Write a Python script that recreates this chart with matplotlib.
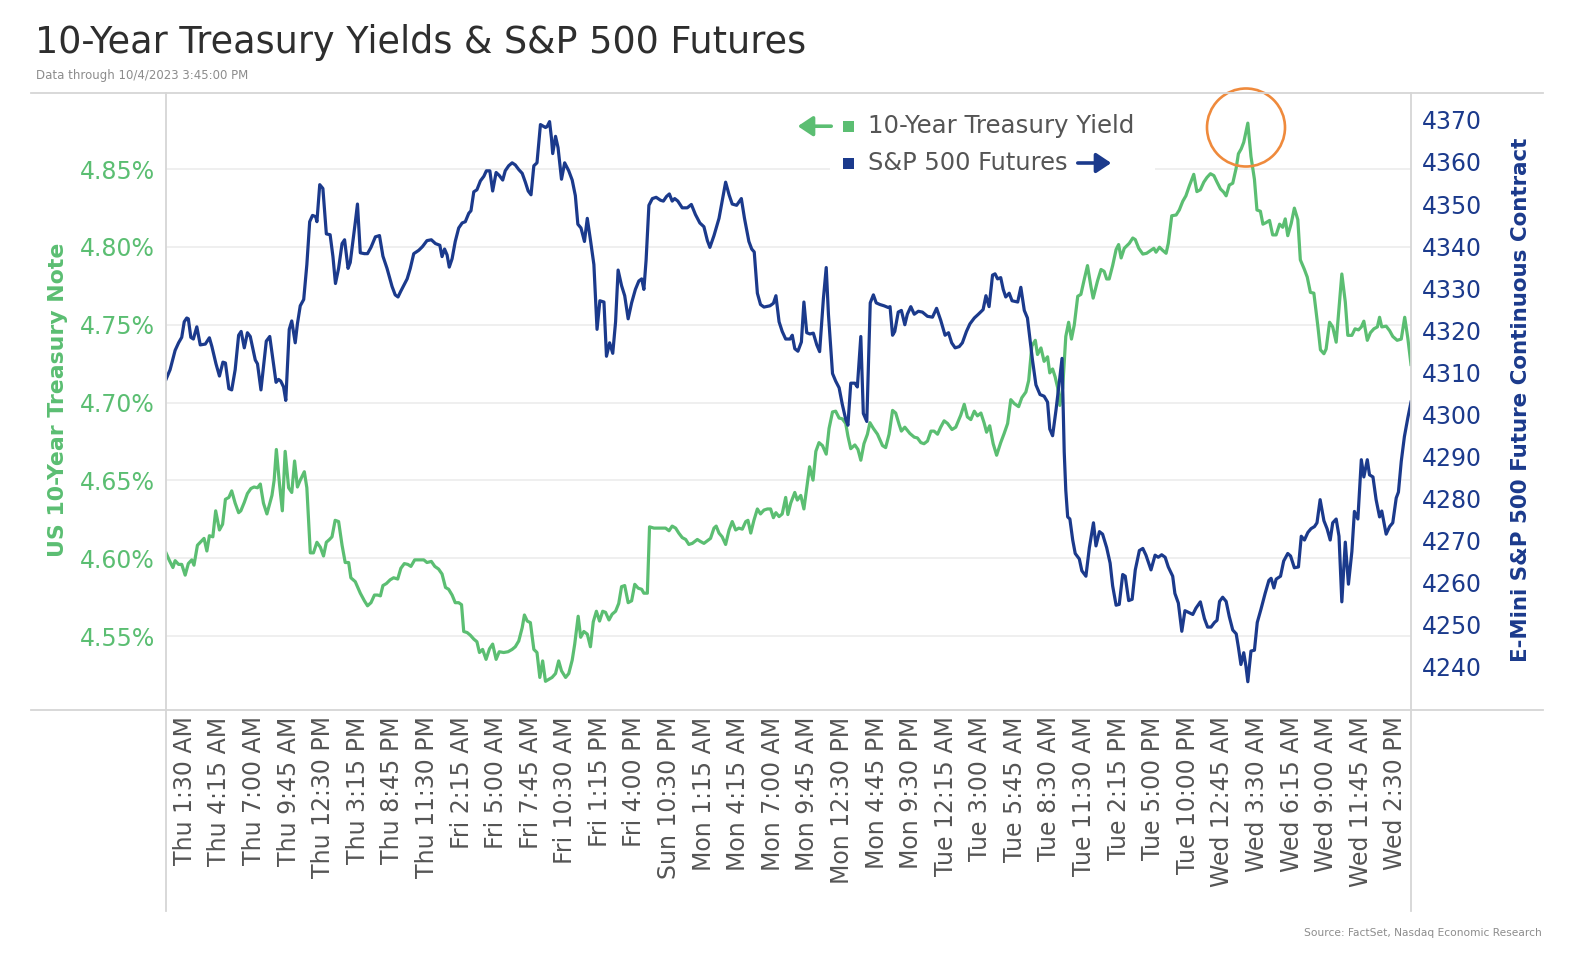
import matplotlib
matplotlib.use("Agg")
import matplotlib.pyplot as plt
from matplotlib.lines import Line2D
from matplotlib.patches import Rectangle, Ellipse, FancyArrowPatch

plt.rcParams['font.family'] = ['DejaVu Sans']

# ---------------- data ----------------
# x = time step index (15-minute bars, categorical axis, weekend gap removed)
x_labels = ["Thu 1:30 AM", "Thu 4:15 AM", "Thu 7:00 AM", "Thu 9:45 AM", "Thu 12:30 PM",
            "Thu 3:15 PM", "Thu 8:45 PM", "Thu 11:30 PM", "Fri 2:15 AM", "Fri 5:00 AM",
            "Fri 7:45 AM", "Fri 10:30 AM", "Fri 1:15 PM", "Fri 4:00 PM", "Sun 10:30 PM",
            "Mon 1:15 AM", "Mon 4:15 AM", "Mon 7:00 AM", "Mon 9:45 AM", "Mon 12:30 PM",
            "Mon 4:45 PM", "Mon 9:30 PM", "Tue 12:15 AM", "Tue 3:00 AM", "Tue 5:45 AM",
            "Tue 8:30 AM", "Tue 11:30 AM", "Tue 2:15 PM", "Tue 5:00 PM", "Tue 10:00 PM",
            "Wed 12:45 AM", "Wed 3:30 AM", "Wed 6:15 AM", "Wed 9:00 AM", "Wed 11:45 AM",
            "Wed 2:30 PM"]
label_first_step = 6
label_every = 11
last_step = 396

yld_ticks = [4.55, 4.60, 4.65, 4.70, 4.75, 4.80, 4.85]
sp_ticks = [4240, 4250, 4260, 4270, 4280, 4290, 4300, 4310, 4320, 4330, 4340, 4350, 4360, 4370]

# S&P 500 futures (right axis)
sp_t1 = [0, 1.3, 2.9, 4.0, 5.0, 5.8, 6.6, 7.1, 7.9, 8.7, 9.8, 10.9, 12.5, 13.8, 14.6, 15.9, 17.0, 18.1, 18.9, 20.0,
         20.9, 22.0, 23.1, 23.9, 24.9, 25.9, 26.8, 28.4, 29.1, 30.2, 31.9, 33.0, 33.7, 35.0, 35.8, 36.5, 37.4, 38.1, 39.2, 40.0,
         41.1, 41.8, 42.7, 43.8, 44.8, 45.7, 46.6, 47.6, 48.0, 48.9, 49.9, 51.0, 52.2, 53.1, 53.9, 54.9, 56.0, 56.8, 57.9, 58.6,
         60.2, 60.9, 61.8, 63.1, 64.1, 65.2, 66.6, 67.9, 69.0, 70.3, 71.9, 72.9, 73.8, 74.7, 76.7, 77.7]
sp_v1 = [4308.3, 4310.6, 4315.2, 4317.0, 4318.3, 4322.0, 4322.9, 4322.7, 4318.3, 4317.9, 4320.8, 4316.5, 4316.7, 4318.2, 4316.1,
         4312.0, 4309.1, 4312.4, 4312.2, 4306.1, 4305.8, 4310.6, 4318.8, 4319.7, 4315.8, 4319.4, 4318.5, 4312.9, 4312.0, 4305.8,
         4317.4, 4318.5, 4314.7, 4307.6, 4308.3, 4307.9, 4306.5, 4303.3, 4320.2, 4322.2, 4317.0, 4321.5, 4325.8, 4327.3, 4335.6,
         4345.8, 4347.3, 4347.0, 4345.8, 4354.6, 4353.7, 4342.9, 4342.7, 4337.5, 4331.1, 4334.7, 4340.6, 4341.5, 4334.7, 4336.1,
         4345.6, 4350.0, 4338.4, 4338.2, 4338.2, 4339.7, 4342.2, 4342.5, 4337.6, 4334.7, 4330.4, 4328.4, 4327.9, 4329.3, 4332.2,
         4334.7]
sp_t2 = [78.8, 80.4, 81.6, 83.0, 84.4, 85.7, 87.1, 87.8, 88.6, 89.4, 90.1, 91.0, 92.0, 93.1, 94.2, 95.2, 96.3, 97.0, 97.9, 98.9,
         100.0, 101.1, 101.9, 103.0, 103.9, 105.0, 106.0, 107.1, 107.9, 109.0, 110.1, 111.1, 112.2, 113.3, 114.3, 115.2, 116.1,
         117.0, 118.0, 119.1, 120.7, 121.2, 122.0, 122.6, 123.0, 123.9, 124.7, 125.8, 126.8, 128.1, 129.2, 130.2, 131.0, 132.0,
         133.1, 134.0, 135.0, 136.1, 137.1, 138.0, 139.3, 140.1, 141.1, 142.1, 143.0, 143.8, 144.9, 145.9, 147.0, 148.1, 149.3,
         150.4, 151.3, 152.0, 152.7, 153.6, 154.7, 155.9, 157.3]
sp_v2 = [4338.2, 4339.0, 4339.9, 4341.3, 4341.5, 4340.6, 4340.2, 4337.5, 4339.3, 4337.9, 4335.0, 4337.0, 4341.1, 4344.3, 4345.5,
         4345.8, 4347.8, 4348.4, 4352.9, 4353.4, 4355.5, 4356.6, 4357.9, 4357.9, 4353.1, 4357.5, 4356.8, 4355.7, 4357.9, 4359.1,
         4359.8, 4359.3, 4358.2, 4357.3, 4355.2, 4353.1, 4352.2, 4359.1, 4359.8, 4368.9, 4368.2, 4368.4, 4369.6, 4365.7, 4362.0,
         4366.1, 4363.4, 4355.9, 4359.8, 4357.9, 4355.7, 4352.0, 4345.2, 4344.3, 4341.1, 4346.6, 4341.5, 4335.6, 4320.2, 4327.0,
         4326.7, 4313.8, 4317.0, 4314.5, 4322.0, 4334.3, 4330.6, 4328.2, 4322.7, 4326.5, 4329.7, 4331.7, 4332.2, 4329.7, 4336.6,
         4349.7, 4351.3, 4351.6, 4350.9]
sp_t3 = [158.2, 159.2, 160.1, 161.0, 161.8, 162.8, 164.2, 165.8, 167.1, 168.4, 169.8, 171.1, 172.2, 173.0, 174.3, 175.9,
         178.0, 179.1, 180.1, 181.5, 183.0, 184.0, 185.4, 186.3, 187.1, 188.1, 189.1, 190.2, 192.1, 193.2, 194.0, 195.0, 196.0,
         197.1, 198.5, 199.2, 200.0, 201.0, 202.1, 202.9, 203.8, 204.8, 205.9, 207.0, 207.9, 209.1, 210.0, 210.7, 212.0, 213.0,
         214.1, 215.1, 216.2, 216.9, 217.8, 219.1, 219.9, 221.0, 221.8, 222.9, 224.0, 225.0, 225.9, 227.1, 228.4, 229.7, 230.3,
         231.1, 231.8, 232.9, 233.9, 235.0]
sp_v3 = [4350.7, 4351.8, 4352.4, 4350.7, 4351.3, 4350.7, 4349.1, 4349.1, 4349.9, 4347.5, 4345.5, 4344.6, 4341.3, 4339.7, 4342.5,
         4346.6, 4355.2, 4352.2, 4350.0, 4349.7, 4351.3, 4346.6, 4341.1, 4339.3, 4338.6, 4328.8, 4326.1, 4325.5, 4325.8, 4326.4,
         4328.2, 4322.0, 4319.7, 4317.9, 4317.9, 4318.8, 4315.6, 4315.0, 4317.2, 4326.7, 4319.4, 4319.1, 4319.3, 4316.5, 4314.9,
         4327.5, 4334.9, 4323.8, 4309.7, 4307.9, 4306.3, 4302.4, 4298.8, 4297.4, 4307.4, 4307.4, 4306.5, 4318.5, 4300.2, 4298.3,
         4326.5, 4328.4, 4326.5, 4326.1, 4325.8, 4325.4, 4325.6, 4318.8, 4319.7, 4324.3, 4324.7, 4321.3]
sp_t4 = [235.8, 236.9, 238.0, 239.3, 240.6, 242.2, 243.8, 245.1, 246.4, 247.8, 248.9, 249.9, 251.0, 252.3, 253.3, 254.6,
         255.7, 257.1, 258.4, 259.9, 260.8, 261.8, 262.9, 263.7, 264.5, 265.5, 266.3, 267.1, 268.2, 269.1, 270.9, 271.9, 273.0,
         274.0, 275.6, 276.7, 278.0, 279.3, 280.4, 281.1, 282.0, 283.1, 284.1, 285.0, 285.7, 286.2, 286.8, 287.5, 288.4, 289.2,
         290.5, 291.3, 292.6, 293.7, 295.0, 295.8, 296.9, 297.9, 299.2, 300.3, 301.1, 302.2, 303.2, 304.3, 305.1, 306.2, 307.3,
         308.3, 309.6, 310.7, 311.7, 313.3]
sp_v4 = [4323.8, 4325.6, 4323.8, 4324.5, 4324.3, 4323.3, 4323.1, 4325.2, 4322.4, 4318.8, 4319.4, 4317.0, 4315.8, 4316.1, 4317.0,
         4319.7, 4321.5, 4322.9, 4323.8, 4324.9, 4328.2, 4325.6, 4333.1, 4333.4, 4332.2, 4332.5, 4329.7, 4327.9, 4328.8, 4327.0,
         4326.7, 4330.2, 4324.7, 4322.9, 4312.9, 4307.0, 4304.7, 4304.3, 4302.9, 4296.5, 4294.9, 4301.1, 4307.4, 4313.3, 4291.0,
         4281.9, 4275.6, 4275.1, 4270.1, 4266.9, 4265.6, 4262.8, 4261.5, 4268.3, 4274.2, 4268.7, 4272.1, 4271.5, 4268.3, 4264.6,
         4259.2, 4254.6, 4254.8, 4261.9, 4261.5, 4255.7, 4256.0, 4263.0, 4267.6, 4268.1, 4266.5, 4263.0]
sp_t5 = [314.6, 315.6, 316.7, 317.8, 318.8, 320.2, 320.9, 322.0, 323.1, 324.1, 325.5, 326.6, 327.6, 329.0, 330.3, 331.3,
         332.4, 333.5, 334.3, 335.1, 336.1, 337.2, 338.2, 339.3, 340.4, 341.1, 341.9, 342.8, 343.5, 344.1, 345.1, 346.2, 347.1,
         348.3, 349.6, 350.8, 351.5, 352.4, 353.1, 354.5, 355.5, 356.8, 357.7, 358.9, 360.2, 361.1, 362.1, 363.2, 364.2, 365.3,
         366.1, 367.1, 368.3, 369.3, 370.3, 371.1, 372.2, 373.1, 374.0, 375.1, 376.1, 377.2, 378.0, 379.1, 380.2, 381.0, 382.1,
         382.8, 383.9, 384.9, 386.0, 386.7, 388.1, 389.2, 390.2, 391.3, 392.0, 392.9, 393.9, 395.0, 396.0]
sp_v5 = [4266.5, 4266.0, 4266.6, 4266.0, 4263.7, 4261.5, 4257.4, 4255.1, 4248.4, 4253.3, 4252.8, 4252.4, 4253.9, 4255.4, 4251.4,
         4249.4, 4249.4, 4250.5, 4251.0, 4255.5, 4256.5, 4255.5, 4251.9, 4248.7, 4247.8, 4244.6, 4240.5, 4243.3, 4240.1, 4236.4,
         4243.7, 4243.9, 4250.5, 4253.7, 4257.4, 4260.5, 4261.0, 4258.7, 4260.8, 4261.5, 4265.1, 4266.9, 4266.3, 4263.5, 4263.7,
         4271.0, 4270.1, 4271.9, 4272.8, 4273.3, 4274.2, 4279.7, 4274.7, 4272.8, 4270.1, 4274.2, 4275.1, 4271.0, 4255.4, 4269.6,
         4259.6, 4267.4, 4276.9, 4275.1, 4289.2, 4285.1, 4289.2, 4285.6, 4285.1, 4279.7, 4275.6, 4277.0, 4271.5, 4273.3, 4274.2,
         4280.1, 4281.5, 4288.8, 4294.7, 4299.2, 4302.9]

# 10-year Treasury yield, % (left axis)
yld_t1 = [0, 1.1, 2.2, 2.9, 4.0, 5.0, 6.1, 7.1, 8.2, 8.9, 10.0, 10.9, 12.1, 13.0, 13.8, 14.9, 15.8, 17.0, 18.0, 18.9,
          20.0, 20.9, 22.0, 23.1, 23.8, 24.9, 25.9, 27.0, 28.0, 29.1, 30.0, 31.0, 32.1, 33.7, 34.4, 35.1, 36.1, 37.0, 37.9, 39.0,
          40.0, 40.9, 41.8, 42.7, 44.0, 44.8, 45.9, 46.9, 48.0, 49.1, 50.1, 51.0, 52.0, 52.8, 53.8, 54.9, 56.0, 57.0, 58.1, 58.8,
          60.2, 61.8, 63.1, 64.1, 65.2, 66.3, 67.3, 68.2, 69.0, 70.1, 71.3, 72.4, 73.7, 74.7, 75.8, 76.9, 77.9]
yld_v1 = [4.6035, 4.5985, 4.5941, 4.5985, 4.5961, 4.5961, 4.5892, 4.5966, 4.5990, 4.5956, 4.6084, 4.6103, 4.6128, 4.6047,
          4.6145, 4.6138, 4.6305, 4.6182, 4.6219, 4.6379, 4.6391, 4.6433, 4.6354, 4.6293, 4.6305, 4.6359, 4.6416, 4.6448,
          4.6458, 4.6453, 4.6477, 4.6354, 4.6285, 4.6404, 4.6502, 4.6699, 4.6477, 4.6305, 4.6687, 4.6453, 4.6423, 4.6625,
          4.6458, 4.6502, 4.6556, 4.6453, 4.6035, 4.6035, 4.6103, 4.6071, 4.6015, 4.6103, 4.6121, 4.6138, 4.6244, 4.6236,
          4.6084, 4.5973, 4.5973, 4.5875, 4.5850, 4.5776, 4.5727, 4.5695, 4.5715, 4.5764, 4.5764, 4.5759, 4.5825, 4.5838,
          4.5862, 4.5875, 4.5867, 4.5936, 4.5966, 4.5961, 4.5948]
yld_t2 = [79.1, 80.4, 82.0, 83.0, 84.4, 85.5, 86.7, 87.8, 88.9, 89.9, 91.0, 92.0, 93.1, 94.0, 94.7, 95.8, 96.8, 97.9, 98.9,
          99.7, 100.7, 101.8, 102.9, 103.9, 105.0, 106.0, 107.4, 108.8, 110.1, 111.1, 112.2, 113.3, 114.0, 114.9, 115.9, 117.0,
          118.0, 118.9, 119.8, 120.7, 121.8, 122.8, 123.9, 124.9, 125.8, 127.1, 128.1, 129.2, 130.0, 131.1, 131.9, 132.9, 134.0,
          135.0, 135.9, 136.9, 137.9, 138.9, 139.8, 140.9, 141.9, 143.0, 144.0, 144.9, 145.9, 147.0, 148.1, 149.1, 150.2, 151.3,
          152.0, 153.1, 153.8, 155.2, 157.3]
yld_v2 = [4.5990, 4.5990, 4.5990, 4.5973, 4.5980, 4.5948, 4.5931, 4.5899, 4.5813, 4.5801, 4.5764, 4.5715, 4.5715, 4.5702,
          4.5530, 4.5523, 4.5506, 4.5481, 4.5464, 4.5395, 4.5415, 4.5351, 4.5419, 4.5449, 4.5351, 4.5400, 4.5395, 4.5400,
          4.5415, 4.5432, 4.5469, 4.5555, 4.5636, 4.5597, 4.5587, 4.5415, 4.5395, 4.5235, 4.5341, 4.5210, 4.5223, 4.5235,
          4.5260, 4.5341, 4.5277, 4.5235, 4.5260, 4.5346, 4.5449, 4.5628, 4.5493, 4.5530, 4.5513, 4.5432, 4.5592, 4.5660,
          4.5597, 4.5660, 4.5653, 4.5604, 4.5641, 4.5660, 4.5710, 4.5818, 4.5825, 4.5715, 4.5727, 4.5833, 4.5808, 4.5801,
          4.5776, 4.5776, 4.6202, 4.6194, 4.6194]
yld_t3 = [158.9, 160.0, 161.0, 162.1, 163.1, 164.2, 165.3, 166.3, 167.4, 169.0, 170.0, 171.1, 172.2, 173.2, 174.3, 175.0,
          175.9, 176.9, 178.0, 179.1, 180.1, 181.2, 182.2, 183.3, 184.4, 185.1, 186.0, 187.0, 188.1, 189.1, 190.2, 191.3, 192.3,
          193.2, 194.0, 195.0, 196.0, 197.1, 197.8, 198.7, 200.0, 200.8, 201.9, 202.9, 203.8, 204.7, 205.8, 206.7, 207.7, 208.8,
          210.0, 210.9, 212.0, 213.0, 214.1, 215.1, 216.2, 216.9, 217.8, 219.1, 220.1, 221.0, 222.0, 223.1, 223.9, 225.0, 226.3,
          227.9, 228.9, 230.0, 231.1, 232.1, 233.2, 233.9, 235.0]
yld_v3 = [4.6194, 4.6177, 4.6207, 4.6194, 4.6162, 4.6133, 4.6121, 4.6089, 4.6096, 4.6121, 4.6108, 4.6096, 4.6113, 4.6128,
          4.6194, 4.6207, 4.6162, 4.6138, 4.6089, 4.6182, 4.6236, 4.6182, 4.6194, 4.6187, 4.6236, 4.6244, 4.6162, 4.6244,
          4.6317, 4.6285, 4.6310, 4.6317, 4.6317, 4.6261, 4.6293, 4.6268, 4.6285, 4.6391, 4.6281, 4.6354, 4.6423, 4.6374,
          4.6404, 4.6317, 4.6453, 4.6588, 4.6502, 4.6687, 4.6743, 4.6724, 4.6669, 4.6834, 4.6940, 4.6945, 4.6901, 4.6896,
          4.6866, 4.6785, 4.6704, 4.6728, 4.6699, 4.6630, 4.6736, 4.6797, 4.6871, 4.6834, 4.6797, 4.6724, 4.6711, 4.6797,
          4.6950, 4.6933, 4.6859, 4.6817, 4.6842]
yld_t4 = [236.6, 238.0, 239.0, 240.1, 241.1, 242.2, 243.3, 244.3, 245.4, 246.4, 247.5, 248.6, 250.0, 251.2, 252.8, 253.9,
          254.9, 256.0, 257.1, 258.1, 259.2, 260.2, 261.0, 262.0, 263.1, 264.2, 265.5, 266.6, 267.7, 268.7, 269.8, 271.2, 272.2,
          273.5, 274.4, 275.4, 276.5, 277.2, 278.3, 279.3, 280.4, 281.1, 282.0, 282.8, 283.6, 284.3, 285.2, 286.2, 287.1, 288.0,
          288.9, 290.0, 291.0, 292.1, 293.1, 294.2, 294.9, 296.3, 297.4, 298.4, 299.2, 300.0, 301.1, 302.2, 303.0, 303.8, 304.8,
          306.4, 307.5, 308.3, 309.4, 310.7, 311.9, 313.3]
yld_v4 = [4.6802, 4.6778, 4.6773, 4.6743, 4.6736, 4.6753, 4.6817, 4.6817, 4.6797, 4.6842, 4.6883, 4.6866, 4.6827, 4.6842,
          4.6920, 4.6989, 4.6908, 4.6891, 4.6945, 4.6915, 4.6933, 4.6871, 4.6810, 4.6851, 4.6736, 4.6662, 4.6743, 4.6802,
          4.6866, 4.7019, 4.6994, 4.6974, 4.7031, 4.7068, 4.7142, 4.7363, 4.7400, 4.7309, 4.7351, 4.7265, 4.7294, 4.7191,
          4.7216, 4.7166, 4.7097, 4.6982, 4.7092, 4.7425, 4.7516, 4.7408, 4.7499, 4.7683, 4.7695, 4.7794, 4.7880, 4.7745,
          4.7671, 4.7782, 4.7855, 4.7843, 4.7794, 4.7794, 4.7880, 4.7983, 4.8015, 4.7929, 4.7991, 4.8023, 4.8057, 4.8047,
          4.7991, 4.7954, 4.7959, 4.7978]
yld_t5 = [314.2, 314.9, 316.0, 317.0, 318.1, 318.8, 319.9, 321.3, 322.3, 323.4, 324.4, 325.5, 326.9, 327.9, 329.0, 330.1,
          331.1, 332.2, 333.3, 334.3, 335.4, 336.4, 337.2, 338.2, 339.3, 340.4, 341.1, 342.0, 342.8, 344.1, 345.1, 346.2, 347.0,
          348.1, 348.9, 349.9, 351.0, 352.0, 353.1, 354.2, 355.2, 356.0, 356.8, 357.9, 358.9, 360.0, 360.8, 362.1, 363.0, 364.0,
          365.1, 366.4, 367.2, 368.3, 369.0, 370.1, 371.1, 372.2, 373.1, 374.0, 375.1, 375.9, 377.2, 378.2, 379.3, 380.2, 381.0,
          382.1, 383.1, 384.2, 385.3, 386.0, 386.7, 388.1, 389.2, 390.2, 391.6, 392.9, 394.0, 395.0, 396.0]
yld_v5 = [4.7991, 4.7966, 4.7998, 4.7978, 4.7959, 4.8023, 4.8200, 4.8205, 4.8237, 4.8293, 4.8328, 4.8392, 4.8466, 4.8355,
          4.8367, 4.8416, 4.8446, 4.8470, 4.8458, 4.8416, 4.8372, 4.8352, 4.8328, 4.8397, 4.8409, 4.8507, 4.8598, 4.8630,
          4.8672, 4.8795, 4.8581, 4.8434, 4.8237, 4.8229, 4.8146, 4.8156, 4.8170, 4.8077, 4.8077, 4.8146, 4.8126, 4.8180,
          4.8072, 4.8151, 4.8249, 4.8175, 4.7917, 4.7855, 4.7806, 4.7708, 4.7703, 4.7486, 4.7339, 4.7314, 4.7344, 4.7516,
          4.7486, 4.7388, 4.7609, 4.7826, 4.7646, 4.7432, 4.7432, 4.7474, 4.7467, 4.7486, 4.7523, 4.7400, 4.7449, 4.7474,
          4.7486, 4.7548, 4.7486, 4.7491, 4.7462, 4.7425, 4.7400, 4.7408, 4.7548, 4.7412, 4.7245]

sp_t = sp_t1 + sp_t2 + sp_t3 + sp_t4 + sp_t5
sp_v = sp_v1 + sp_v2 + sp_v3 + sp_v4 + sp_v5
yld_t = yld_t1 + yld_t2 + yld_t3 + yld_t4 + yld_t5
yld_v = yld_v1 + yld_v2 + yld_v3 + yld_v4 + yld_v5

# ---------------- styling / layout ----------------
W, H = 1596, 968
GREEN = '#5BBE72'
NAVY = '#1B3A8C'
GRAY_TXT = '#555555'
FRAME = '#D6D6D6'


def fx(x):
    return x / W


def fy(y):
    return 1 - y / H


fig = plt.figure(figsize=(W / 100, H / 100), dpi=100)
fig.patch.set_facecolor('white')

L, R, T, B = 166, 1411, 92.6, 709.5
ax = fig.add_axes([fx(L), fy(B), fx(R) - fx(L), fy(T) - fy(B)])
ax2 = ax.twinx()

ax.plot(yld_t, yld_v, color=GREEN, lw=2.3, solid_joinstyle='round', zorder=3)
ax2.plot(sp_t, sp_v, color=NAVY, lw=2.3, solid_joinstyle='round', zorder=3)

ax.set_xlim(0, last_step)
ax.set_ylim(4.5029, 4.8991)
ax2.set_ylim(4229.8, 4376.5)

ax.set_yticks(yld_ticks)
ax.set_yticklabels([f"{v:.2f}%" for v in yld_ticks])
ax2.set_yticks(sp_ticks)
ax2.set_yticklabels([str(v) for v in sp_ticks])

tick_pos = [label_first_step + label_every * i for i in range(len(x_labels))]
ax.set_xticks(tick_pos)
ax.set_xticklabels(x_labels, rotation=90, fontsize=17, color=GRAY_TXT)

ax.tick_params(axis='y', length=0, pad=8, labelsize=17, labelcolor=GREEN)
ax2.tick_params(axis='y', length=0, pad=8, labelsize=17, labelcolor=NAVY)
ax.tick_params(axis='x', length=0, pad=5)

ax.grid(axis='y', color='#ECECEC', lw=1.2)
ax.set_axisbelow(True)
for a in (ax, ax2):
    for s in a.spines.values():
        s.set_visible(False)

# white box behind the legend (hides grid line)
ax.add_patch(Rectangle((fx(830), fy(182)), fx(1155) - fx(830), fy(100) - fy(182),
                       transform=fig.transFigure, facecolor='white', edgecolor='none', zorder=1))

# frame lines
for (x0, y0, x1, y1) in [(30.5, T, 1543, T), (30.5, B, 1543, B), (L, T, L, 911), (R, T, R, 911)]:
    fig.add_artist(Line2D([fx(x0), fx(x1)], [fy(y0), fy(y1)], color=FRAME, lw=1.3,
                          transform=fig.transFigure))

# titles
fig.text(fx(35), fy(42.7), "10-Year Treasury Yields & S&P 500 Futures", fontsize=26.3,
         color='#2E2E2E', ha='left', va='center')
fig.text(fx(35.5), fy(75.3), "Data through 10/4/2023 3:45:00 PM", fontsize=8.5,
         color='#8C8C8C', ha='left', va='center')
fig.text(fx(1542), fy(933), "Source: FactSet, Nasdaq Economic Research", fontsize=7.7,
         color='#8C8C8C', ha='right', va='center')

# axis titles
fig.text(fx(58), fy(400), "US 10-Year Treasury Note", rotation=90, fontsize=15.8,
         fontweight='bold', color=GREEN, ha='center', va='center')
fig.text(fx(1521), fy(399.5), "E-Mini S&P 500 Future Continuous Contract", rotation=90,
         fontsize=15.4, fontweight='bold', color=NAVY, ha='center', va='center')

# legend
sq = 11
fig.add_artist(Rectangle((fx(848 - sq / 2), fy(126.2 + sq / 2)), sq / W, sq / H,
                         transform=fig.transFigure, facecolor=GREEN, edgecolor='none'))
fig.add_artist(Rectangle((fx(848 - sq / 2), fy(163 + sq / 2)), sq / W, sq / H,
                         transform=fig.transFigure, facecolor=NAVY, edgecolor='none'))
fig.text(fx(868), fy(126.2), "10-Year Treasury Yield", fontsize=17.6, color=GRAY_TXT,
         ha='left', va='center')
fig.text(fx(868), fy(163), "S&P 500 Futures", fontsize=17.4, color=GRAY_TXT,
         ha='left', va='center')
fig.add_artist(FancyArrowPatch((fx(834), fy(126.2)), (fx(795), fy(126.2)),
                               transform=fig.transFigure,
                               arrowstyle='-|>,head_length=0.6,head_width=0.4',
                               mutation_scale=15, color=GREEN, lw=2.6))
fig.add_artist(FancyArrowPatch((fx(1075), fy(163)), (fx(1114), fy(163)),
                               transform=fig.transFigure,
                               arrowstyle='-|>,head_length=0.6,head_width=0.4',
                               mutation_scale=15, color=NAVY, lw=2.6))

# highlight circle around the yield peak
fig.add_artist(Ellipse((fx(1246), fy(127.5)), 78 / W, 78 / H, transform=fig.transFigure,
                       fill=False, edgecolor='#EF8A3C', lw=1.9))

fig.savefig("out.png", dpi=100, facecolor='white')
